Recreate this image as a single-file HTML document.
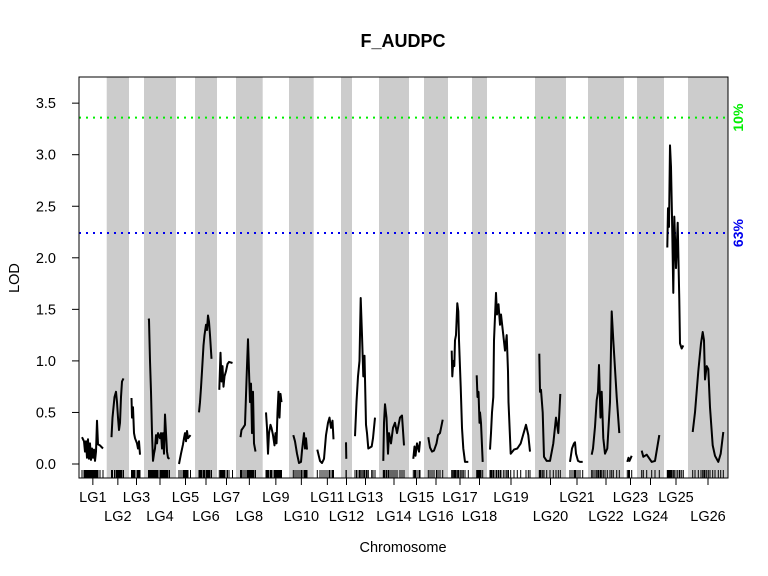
<!DOCTYPE html>
<html><head><meta charset="utf-8"><style>
body{margin:0;background:#fff;}
svg{display:block;font-family:"Liberation Sans",Arial,sans-serif;}
</style></head><body>
<svg id="chart" width="768" height="576">
<text x="403" y="47" text-anchor="middle" font-weight="bold" font-size="18">F_AUDPC</text>
<text x="403" y="552" text-anchor="middle" font-size="14.5">Chromosome</text>
<text transform="translate(19,278) rotate(-90)" text-anchor="middle" font-size="14.5">LOD</text>
<g id="bands"></g><g id="thr"></g><g id="rug"></g><g id="curves"></g><g id="axes"></g>
</svg>
<script>
const chrNames=["LG1","LG2","LG3","LG4","LG5","LG6","LG7","LG8","LG9","LG10","LG11","LG12","LG13","LG14","LG15","LG16","LG17","LG18","LG19","LG20","LG21","LG22","LG23","LG24","LG25","LG26"];
const chrStart=[79,106.7,129,144,176,195,217,236,262.7,289,313.7,341,352,379,409,424,448,472,487,535,566,588,624,637,664,688];
const chrEnd=[106.7,129,144,176,195,217,236,262.7,289,313.7,341,352,379,409,424,448,472,487,535,566,588,624,637,664,688,728];
const yTicks=[0,0.5,1,1.5,2,2.5,3,3.5];
const yTickLabels=["0.0","0.5","1.0","1.5","2.0","2.5","3.0","3.5"];
const thresholdValues=[3.36,2.24];
const thresholdLabels=["10%","63%"];
const thresholdColors=["#00ee00","#0000ee"];
const lodPos=[
[82,84,85,86,87,88,89,90,91,92,93,94,95,96,97,98,100,103],
[111.5,112.5,114.5,116,117,118,119,120,121,122,123.5],
[131.5,132,133,134,135,137,138,139,140],
[148.5,149,150,151,152,153,154,155,156,157,158,160,161,162,163,164,165,166,167,168,169.5],
[179,181,183,184,185,186,187,188,190.5],
[199,200,201,202,203.5,204.5,206,207,208,209,210,211.5],
[219.3,220.5,221.5,222.5,223.5,224.5,226,227.5,229,232.5],
[240.5,241.5,243,245,247,248,249,250,251,252,253,254,255.5],
[266,267,268,269,270.5,271.5,273,274.5,275.5,276.5,277.5,278.5,279.5,280.5,281.5],
[293.3,295,297,299,301,302,304,305,306,307],
[317.3,320,322,324,326,328,329.5,331,332.5,333.5],
[346,346.3],
[355,356.5,358,359.5,360.7,362,363.3,364.5,366,367,368.3,371.7,373,375],
[383.3,384,385,386.5,388,389,391,393,395,397,400,402,404],
[413.3,414.5,415.5,417,419,420],
[428.3,430,432,434,436.5,438,440,442.7],
[451.7,452.3,453.3,454.3,455,456,457.3,458.3,459,460.7,462,463.3,465,468.3],
[476.7,477.5,478.5,479.5,480,481,482.7],
[490,491,492,493.3,494,496,497,498.5,500,501,503.3,505,506.7,508,508.5,510.7,514,517.3,520.7,526,528.3,530],
[539.3,540,541,542.7,544,546.7,550,553.3,556,558.3,560.3],
[570,572,574,575,576,578,580,582.7],
[591.7,593,595,596.7,598,599,600.5,601.7,603.3,605,607.3,610,611.7,613.3,616.7,619.3],
[627.3,628.5,629.5,631.7],
[641.7,643.3,646.7,651.7,655,659.3],
[667.3,668,669,670,671,672,673.3,674.3,676,677.7,679.3,680,681.7,683.3],
[692.7,695,698.3,701,702.7,704,705,706.7,708.3,710,712.7,715,718.3,720.7,723.3]];
const lodVal=[
[.26,.22,.12,.22,.06,.24,.05,.2,.04,.15,.06,.14,.03,.12,.42,.19,.18,.15],
[.26,.45,.65,.70,.6,.45,.33,.4,.65,.8,.83],
[.64,.45,.55,.3,.25,.2,.15,.22,.09],
[1.41,1.40,1.0,.7,.3,.03,.1,.15,.28,.2,.3,.25,.3,.15,.3,.1,.48,.3,.12,.06,.05],
[0,.1,.19,.25,.3,.22,.32,.25,.28],
[.5,.6,.74,.9,1.15,1.25,1.35,1.3,1.44,1.38,1.25,1.02],
[.72,1.08,.8,.95,.75,.85,.9,.97,.99,.98],
[.26,.33,.35,.38,.95,1.21,.9,.6,.78,.3,.7,.2,.12],
[.5,.35,.1,.3,.38,.35,.28,.18,.3,.2,.5,.7,.45,.68,.6],
[.28,.22,.1,.01,.02,.13,.3,.15,.25,.14],
[.14,.03,.01,.05,.28,.4,.45,.35,.42,.24],
[.21,.05],
[.27,.6,.85,1.0,1.61,1.25,.85,1.05,.38,.3,.15,.17,.25,.45],
[.03,.4,.58,.45,.1,.3,.2,.35,.4,.3,.45,.47,.18],
[.05,.17,.08,.2,.12,.22],
[.26,.16,.12,.13,.2,.28,.3,.43],
[1.1,.85,1.0,.95,1.2,1.25,1.56,1.48,1.2,.75,.35,.15,.02,.02],
[.86,.65,.7,.4,.5,.4,.02],
[.14,.3,.5,.65,1.2,1.66,1.45,1.55,1.35,1.45,1.25,1.1,1.25,.9,.6,.1,.14,.15,.2,.38,.28,.12],
[1.07,.7,.72,.5,.07,.03,.03,.2,.45,.3,.68],
[.02,.15,.2,.21,.1,.03,.02,.02],
[.09,.15,.36,.62,.7,.96,.45,.7,.25,.1,.15,.6,1.48,1.2,.65,.3],
[.02,.06,.03,.08],
[.13,.07,.09,.02,.03,.28],
[2.1,2.48,2.3,3.09,2.88,2.4,1.66,2.4,1.9,2.34,1.59,1.17,1.12,1.15],
[.31,.5,.9,1.17,1.28,1.2,.82,.95,.92,.55,.18,.08,.02,.1,.31]];

const NS="http://www.w3.org/2000/svg";
const L=79,R=728,T=77,B=478;
const dMin=79,dMax=728;
function xs(u){return L+(u-dMin)*(R-L)/(dMax-dMin);}
function ys(v){return 464-v*103.1;}
function mk(tag,attrs,parent){const e=document.createElementNS(NS,tag);for(const k in attrs)e.setAttribute(k,attrs[k]);parent.appendChild(e);return e;}
const gB=document.getElementById('bands'),gT=document.getElementById('thr'),gR=document.getElementById('rug'),gC=document.getElementById('curves'),gA=document.getElementById('axes');
chrNames.forEach((n,i)=>{
  if(i%2===1){const r=mk('rect',{x:xs(chrStart[i]),y:T,width:xs(chrEnd[i])-xs(chrStart[i]),height:B-T,fill:'#cccccc'},gB);
  
  }
  const pts=lodPos[i].map((p,j)=>xs(p).toFixed(1)+','+ys(lodVal[i][j]).toFixed(1)).join(' ');
  const pl=mk('polyline',{points:pts,fill:'none',stroke:'#000','stroke-width':2,'stroke-linejoin':'round'},gC);
  
  
  lodPos[i].forEach(p=>{const t=mk('line',{x1:xs(p),x2:xs(p),y1:470,y2:478,stroke:'#000','stroke-width':1},gR);
    
    });
  const mx=xs((chrStart[i]+chrEnd[i])/2);
  mk('line',{x1:mx,x2:mx,y1:B,y2:485,stroke:'#000'},gA);
  const tx=mk('text',{x:mx,y:i%2===0?502:521,'text-anchor':'middle','font-size':14.5},gA);
  tx.textContent=n;
  
  
});
thresholdValues.forEach((v,i)=>{
  const l=mk('line',{x1:L,x2:R,y1:ys(v),y2:ys(v),stroke:thresholdColors[i],'stroke-width':2,'stroke-dasharray':'2,5'},gT);
  
  
  const t=mk('text',{transform:'translate(743,'+ys(v)+') rotate(-90)','text-anchor':'middle','font-size':14,'font-weight':'bold',fill:thresholdColors[i]},gT);
  t.textContent=thresholdLabels[i];
  
  
});
yTicks.forEach((v,i)=>{
  mk('line',{x1:72,x2:L,y1:ys(v),y2:ys(v),stroke:'#000'},gA);
  const t=mk('text',{x:56,y:ys(v)+5,'text-anchor':'end','font-size':14.5},gA);
  t.textContent=yTickLabels[i];
  
  
});
const box=mk('rect',{x:L,y:T,width:R-L,height:B-T,fill:'none',stroke:'#000'},gA);


</script>
</body></html>
